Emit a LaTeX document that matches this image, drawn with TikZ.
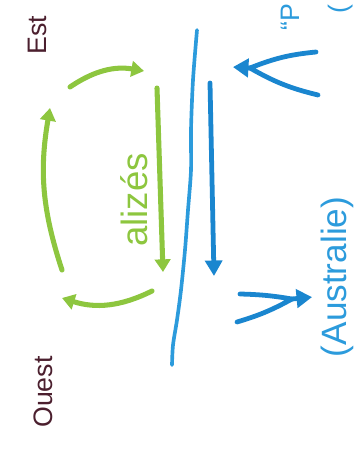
\documentclass[tikz,border=0pt]{standalone}
\usepackage{fontspec}
\setmainfont{Liberation Sans}
\usetikzlibrary{arrows.meta}
\definecolor{vent}{HTML}{8DC63F}
\definecolor{courant}{HTML}{1A86CF}
\definecolor{cote}{HTML}{2C9BDC}
\definecolor{brun}{HTML}{4B1F2E}
\begin{document}
\begin{tikzpicture}[x=0.025cm,y=-0.025cm,line cap=round]
\tikzstyle{lieu}=[text=brun,rotate=90,font=\fontsize{19}{22}\selectfont]
\tikzstyle{alize}=[draw=vent,line width=3.6pt,-{Triangle[length=9pt,width=11pt]}]
\tikzstyle{flux}=[draw=courant,line width=3.4pt]
\useasboundingbox (0,0) rectangle (360,450);
\begin{scope}
\clip (0,0) rectangle (360,450);
% points cardinaux
\node[lieu] (est) at (37,35) {Est};
\node[lieu] (ouest) at (43,392) {Ouest};
% cote
\draw[cote,line width=2.6pt] plot[smooth] coordinates {(197,30) (193,80) (191,130) (191,170) (188,210) (185,250) (181,290) (177,320) (173,345) (172,365)};
% courant le long de la cote
\coordinate (c1) at (210,83);
\coordinate (c2) at (214,276);
\draw[flux,-{Triangle[length=11pt,width=12pt]}] (c1) -- (c2);
% alizes
\coordinate (a1) at (70,87);  \coordinate (a2) at (144,71);
\coordinate (b1) at (62,270); \coordinate (b2) at (50,108);
\coordinate (d1) at (157,88); \coordinate (d2) at (163,272);
\coordinate (e1) at (152,291); \coordinate (e2) at (62,298);
\draw[alize] (a1) to[bend left=22] (a2);
\draw[alize] (b1) to[bend left=14] (b2);
\draw[alize] (d1) -- (d2);
\draw[alize] (e1) to[bend left=22] (e2);
\node[text=vent,rotate=90,font=\fontsize{26}{28}\selectfont] (alizes) at (134,200) {alizés};
% remontees d'eau
\coordinate (p1) at (316,52); \coordinate (p2) at (318,95); \coordinate (pm) at (250,68);
\node[inner sep=0] (pt) at (232,67) {};
\draw[flux] (p1) to[bend right=8] (pm) (p2) to[bend left=8] (pm);
\draw[flux,-{Triangle[length=11pt,width=13pt]}] (pm) -- (pt);
\coordinate (q1) at (240,294); \coordinate (q2) at (237,322); \coordinate (qm) at (292,299);
\node[inner sep=0] (qt) at (313,297) {};
\draw[flux] (q1) to[bend left=4] (qm) (q2) to[bend right=6] (qm);
\draw[flux,-{Triangle[length=11pt,width=13pt]}] (qm) -- (qt);
\node[text=cote,rotate=90,font=\fontsize{25}{28}\selectfont] (australie) at (337,277) {(Australie)};
\node[text=cote,rotate=90,anchor=base west,font=\fontsize{19}{22}\selectfont] (haut) at (300,35) {“P};
\node[text=cote,rotate=90,anchor=base west,font=\fontsize{19}{22}\selectfont] (par) at (348,18) {(};
\end{scope}
\end{tikzpicture}
\end{document}
